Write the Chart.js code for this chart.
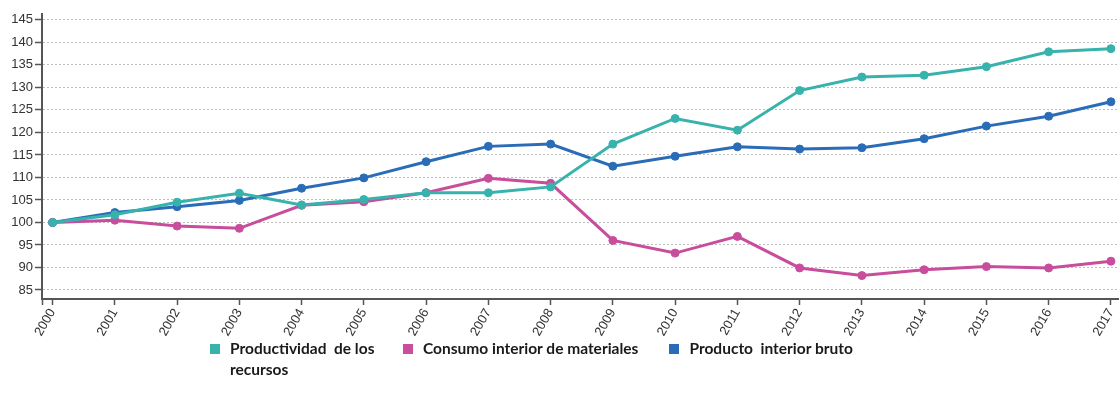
<!DOCTYPE html>
<html>
<head>
<meta charset="utf-8">
<script src="https://cdn.jsdelivr.net/npm/chart.js@4/dist/chart.umd.min.js"></script>
<style>
    html, body {
        margin: 0;
        padding: 0;
        background: #fff;
    }
    #wrap {
        position: relative;
        width: 1119px;
        height: 402px;
    }
    #legend-container {
        position: absolute;
        left: 210px;
        top: 338px;
    }
</style>
</head>
<body>
<div id="wrap">
    <canvas id="line-chart" width="1119" height="402"></canvas>
    <div id="legend-container"></div>
</div>
<script>
const years = [2000, 2001, 2002, 2003, 2004, 2005, 2006, 2007, 2008, 2009, 2010, 2011, 2012, 2013, 2014, 2015, 2016, 2017];
const productividad = [100, 101.7, 104.5, 106.5, 103.9, 105.1, 106.6, 106.6, 107.9, 117.4, 123.1, 120.5, 129.3, 132.3, 132.7, 134.6, 137.9, 138.6];
const consumo = [100, 100.5, 99.2, 98.7, 103.8, 104.6, 106.6, 109.8, 108.7, 96.0, 93.2, 96.9, 89.9, 88.2, 89.5, 90.2, 89.9, 91.4];
const pib = [100, 102.2, 103.5, 104.9, 107.6, 109.9, 113.5, 116.9, 117.4, 112.5, 114.7, 116.8, 116.3, 116.6, 118.6, 121.4, 123.6, 126.8];
const yTicks = [85, 90, 95, 100, 105, 110, 115, 120, 125, 130, 135, 140, 145];
const seriesNames = ['Productividad  de los recursos', 'Consumo interior de materiales', 'Producto  interior bruto'];
const seriesColors = ['#37b2ac', '#c84d9c', '#2a6cb7'];

const xMin = 1999.83;
const xMax = 2017.13;

// легенда в html, чтобы первая подпись переносилась на вторую строку
const htmlLegendPlugin = {
    id: 'htmlLegend',
    afterUpdate(chart, args, options) {
        const container = document.getElementById(options.containerID);
        let ul = container.querySelector('ul');
        if (!ul) {
            ul = document.createElement('ul');
            ul.style.display = 'flex';
            ul.style.flexDirection = 'row';
            ul.style.alignItems = 'flex-start';
            ul.style.listStyle = 'none';
            ul.style.margin = 0;
            ul.style.padding = 0;
            container.appendChild(ul);
        }
        while (ul.firstChild) {
            ul.firstChild.remove();
        }
        const items = chart.options.plugins.legend.labels.generateLabels(chart);
        const widths = [150, null, null];
        const gaps = [23, 31, 0];
        items.forEach((item, index) => {
            const li = document.createElement('li');
            li.style.display = 'flex';
            li.style.flexDirection = 'row';
            li.style.alignItems = 'flex-start';
            li.style.marginRight = gaps[index] + 'px';

            const boxSpan = document.createElement('span');
            boxSpan.style.background = item.strokeStyle;
            boxSpan.style.display = 'inline-block';
            boxSpan.style.flexShrink = 0;
            boxSpan.style.width = '10px';
            boxSpan.style.height = '10px';
            boxSpan.style.marginTop = '6px';
            boxSpan.style.marginRight = '10px';

            const textContainer = document.createElement('p');
            textContainer.style.color = '#1a1a1a';
            textContainer.style.fontFamily = 'Lato, sans-serif';
            textContainer.style.fontWeight = '700';
            textContainer.style.fontSize = '15.5px';
            textContainer.style.lineHeight = '21px';
            textContainer.style.whiteSpace = 'pre-wrap';
            textContainer.style.margin = 0;
            textContainer.style.padding = 0;
            if (widths[index]) {
                textContainer.style.width = widths[index] + 'px';
            }
            textContainer.appendChild(document.createTextNode(item.text));

            li.appendChild(boxSpan);
            li.appendChild(textContainer);
            ul.appendChild(li);
        });
    }
};

const makeSeries = (values, i) => ({
    label: seriesNames[i],
    data: values.map((v, k) => ({x: years[k], y: v})),
    borderColor: seriesColors[i],
    backgroundColor: seriesColors[i],
    pointBackgroundColor: seriesColors[i],
    pointBorderColor: seriesColors[i],
    borderWidth: 3,
    pointRadius: 4,
    pointBorderWidth: 1,
    tension: 0,
    clip: false,
});

try {
    new Chart(document.getElementById('line-chart'), {
        type: 'line',
        data: {
            datasets: [
                makeSeries(productividad, 0),
                makeSeries(consumo, 1),
                makeSeries(pib, 2),
            ]
        },
        options: {
            responsive: false,
            animation: false,
            layout: {
                autoPadding: false,
                padding: {top: 14, right: 0, left: 0, bottom: 0}
            },
            plugins: {
                htmlLegend: {
                    containerID: 'legend-container',
                },
                legend: {
                    display: false,
                },
                tooltip: {
                    enabled: false,
                },
            },
            scales: {
                x: {
                    type: 'linear',
                    min: xMin,
                    max: xMax,
                    afterBuildTicks: (scale) => {
                        scale.ticks = [{value: xMin}].concat(years.map(y => ({value: y})));
                    },
                    afterFit: (scale) => {
                        scale.height = 103;
                        scale.paddingLeft = 0;
                        scale.paddingRight = 0;
                    },
                    grid: {
                        drawOnChartArea: false,
                        drawTicks: true,
                        tickLength: 6,
                        tickColor: '#555',
                        tickWidth: 1.5,
                    },
                    border: {
                        color: '#555',
                        width: 2,
                    },
                    ticks: {
                        autoSkip: false,
                        minRotation: 60,
                        maxRotation: 60,
                        padding: 1,
                        color: '#333',
                        font: {family: 'Liberation Sans, Arial', size: 13},
                        callback: (v) => Number.isInteger(v) ? String(v) : '',
                    },
                },
                y: {
                    min: 83,
                    max: 146.3,
                    afterBuildTicks: (scale) => {
                        scale.ticks = yTicks.map(v => ({value: v}));
                    },
                    afterFit: (scale) => {
                        scale.width = 42;
                    },
                    grid: {
                        color: '#bdbdbd',
                        lineWidth: 1,
                        tickLength: 7,
                        tickColor: '#555',
                        tickWidth: 1.5,
                        tickBorderDash: [],
                    },
                    border: {
                        color: '#555',
                        width: 2,
                        dash: [2, 2],
                    },
                    ticks: {
                        padding: 2,
                        color: '#333',
                        font: {family: 'Liberation Sans, Arial', size: 13},
                    },
                },
            },
        },
        plugins: [htmlLegendPlugin],
    });
} catch (error) {
    console.error('Ошибка при создании графика:', error);
}
</script>
</body>
</html>
